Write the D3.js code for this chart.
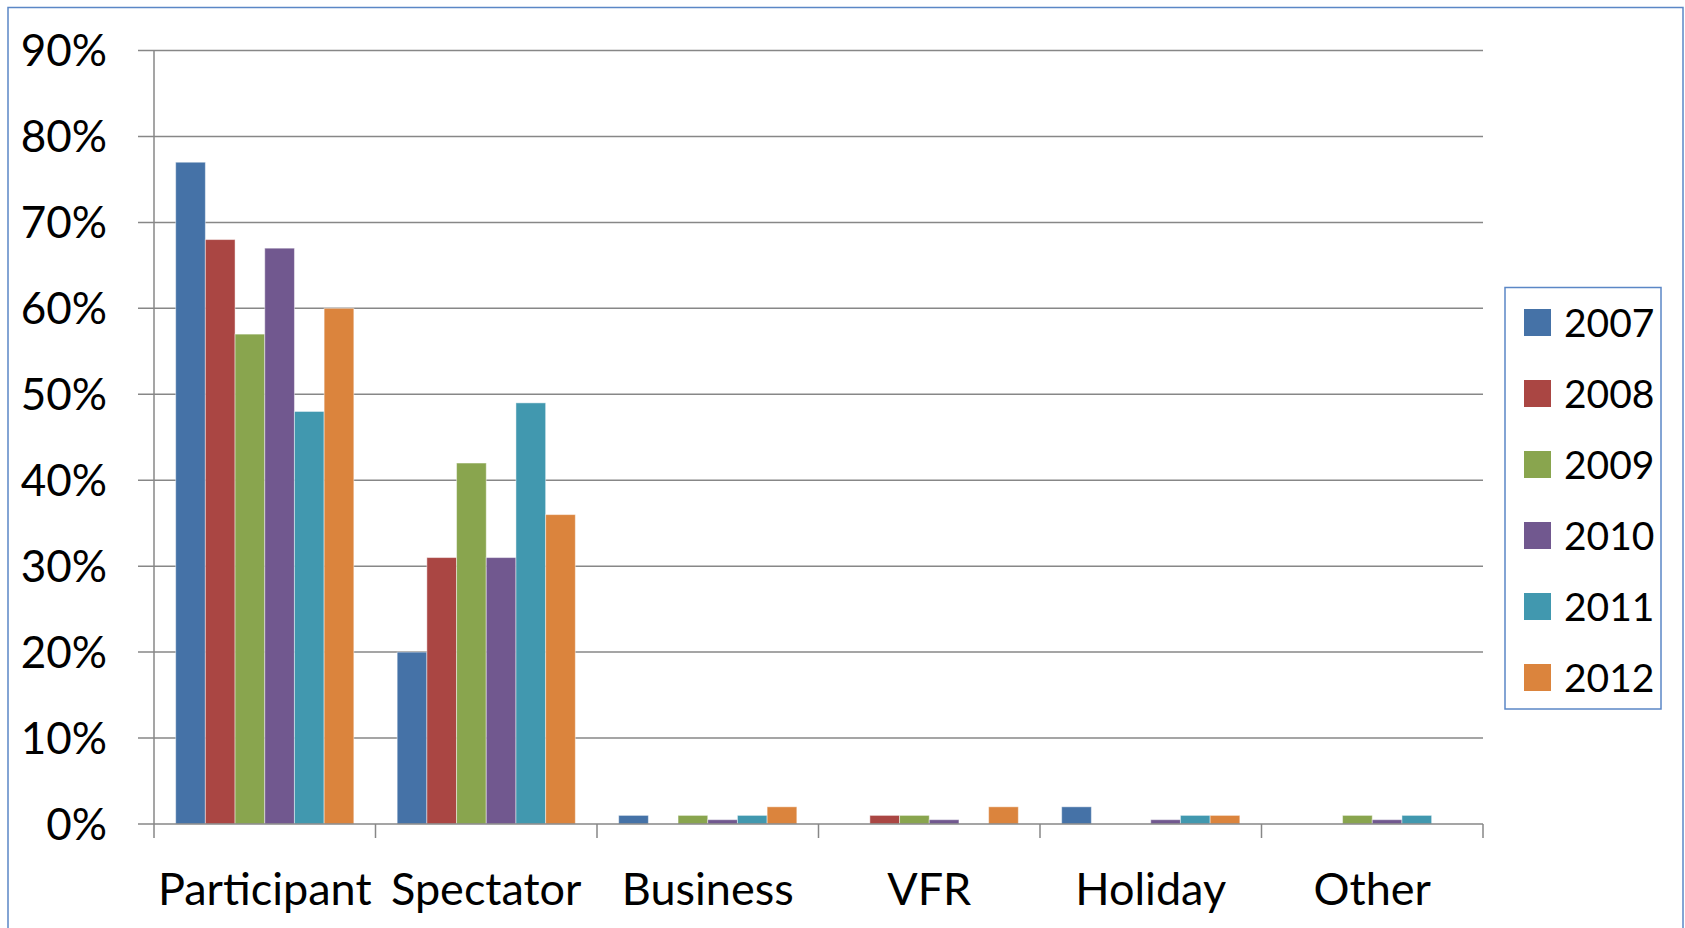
<!DOCTYPE html>
<html>
<head>
<meta charset="utf-8">
<script src="https://cdn.jsdelivr.net/npm/d3@7"></script>
<style>
  html, body { margin: 0; padding: 0; background: #ffffff; }
  svg { display: block; }
  text { font-family: Lato, "Open Sans", sans-serif; fill: #000; }
</style>
</head>
<body>
<svg id="chart" width="1685" height="928"></svg>
<script>
// Visitor purpose by year (share of respondents)
const categories = ["Participant", "Spectator", "Business", "VFR", "Holiday", "Other"];
const years = ["2007", "2008", "2009", "2010", "2011", "2012"];
const values2007 = [0.77, 0.20, 0.01, 0.00, 0.02, 0.00];
const values2008 = [0.68, 0.31, 0.00, 0.01, 0.00, 0.00];
const values2009 = [0.57, 0.42, 0.01, 0.01, 0.00, 0.01];
const values2010 = [0.67, 0.31, 0.005, 0.005, 0.005, 0.005];
const values2011 = [0.48, 0.49, 0.01, 0.00, 0.01, 0.01];
const values2012 = [0.60, 0.36, 0.02, 0.02, 0.01, 0.00];
const yTicks = [0, 0.1, 0.2, 0.3, 0.4, 0.5, 0.6, 0.7, 0.8, 0.9];
const colors = ["#4572A7", "#AA4643", "#89A54E", "#71588F", "#4198AF", "#DB843D"];

const seriesValues = [values2007, values2008, values2009, values2010, values2011, values2012];

const svg = d3.select("#chart");

// outer chart frame
svg.append("rect")
  .attr("x", 8).attr("y", 7.5)
  .attr("width", 1675).attr("height", 940)
  .attr("fill", "#fff")
  .attr("stroke", "#5b87c6").attr("stroke-width", 1.5);

const plot = { left: 154, right: 1483, top: 50.5, bottom: 824 };

const x0 = d3.scaleBand().domain(categories).range([plot.left, plot.right]).padding(0);
const gapFrac = 1.46 / (years.length + 1.46);
const x1 = d3.scaleBand().domain(years)
  .range([x0.bandwidth() * gapFrac / 2, x0.bandwidth() * (1 - gapFrac / 2)])
  .padding(0);
const y = d3.scaleLinear().domain([0, 0.9]).range([plot.bottom, plot.top]);

const gridColor = "#878787";

// horizontal gridlines (with tick stubs to the left of the axis)
svg.append("g").selectAll("line").data(yTicks.filter(d => d > 0)).join("line")
  .attr("x1", plot.left - 16).attr("x2", plot.right)
  .attr("y1", d => y(d)).attr("y2", d => y(d))
  .attr("stroke", gridColor).attr("stroke-width", 1.5);

// y axis labels
svg.append("g").selectAll("text").data(yTicks).join("text")
  .attr("x", 107).attr("y", d => y(d))
  .attr("dy", "0.36em")
  .attr("text-anchor", "end")
  .attr("font-size", 44)
  .text(d => d3.format(".0%")(d));

// bars
const groups = svg.append("g").selectAll("g").data(categories).join("g")
  .attr("transform", d => `translate(${x0(d)},0)`);

groups.selectAll("rect")
  .data((c, ci) => years.map((yr, si) => ({ yr, si, v: seriesValues[si][ci] })))
  .join("rect")
  .attr("x", d => x1(d.yr))
  .attr("width", x1.bandwidth())
  .attr("y", d => y(d.v))
  .attr("height", d => y(0) - y(d.v))
  .attr("fill", d => colors[d.si])
  .attr("stroke", d => d.v > 0 ? "rgba(255,255,255,0.45)" : "none")
  .attr("stroke-width", 1);

// y axis line
svg.append("line")
  .attr("x1", plot.left).attr("x2", plot.left)
  .attr("y1", plot.top).attr("y2", plot.bottom + 14)
  .attr("stroke", gridColor).attr("stroke-width", 1.5);

// x axis baseline and category ticks
svg.append("line")
  .attr("x1", plot.left - 16).attr("x2", plot.right)
  .attr("y1", plot.bottom).attr("y2", plot.bottom)
  .attr("stroke", gridColor).attr("stroke-width", 1.5);

const boundaries = categories.map(c => x0(c)).concat([plot.right]);
svg.append("g").selectAll("line").data(boundaries.slice(1)).join("line")
  .attr("x1", d => d).attr("x2", d => d)
  .attr("y1", plot.bottom).attr("y2", plot.bottom + 14)
  .attr("stroke", gridColor).attr("stroke-width", 1.5);

// category labels
svg.append("g").selectAll("text").data(categories).join("text")
  .attr("x", d => x0(d) + x0.bandwidth() / 2)
  .attr("y", 905)
  .attr("text-anchor", "middle")
  .attr("font-size", 45)
  .text(d => d);

// legend
const legend = svg.append("g");
legend.append("rect")
  .attr("x", 1505).attr("y", 287.5)
  .attr("width", 156).attr("height", 421.5)
  .attr("fill", "#fff")
  .attr("stroke", "#5b87c6").attr("stroke-width", 1.5);

const items = legend.selectAll("g.item").data(years).join("g")
  .attr("class", "item")
  .attr("transform", (d, i) => `translate(0,${322.5 + i * 71})`);
items.append("rect")
  .attr("x", 1524).attr("y", -13.5)
  .attr("width", 27).attr("height", 27)
  .attr("fill", (d, i) => colors[i]);
items.append("text")
  .attr("x", 1564).attr("y", 0)
  .attr("dy", "0.36em")
  .attr("font-size", 39)
  .text(d => d);
</script>
</body>
</html>
